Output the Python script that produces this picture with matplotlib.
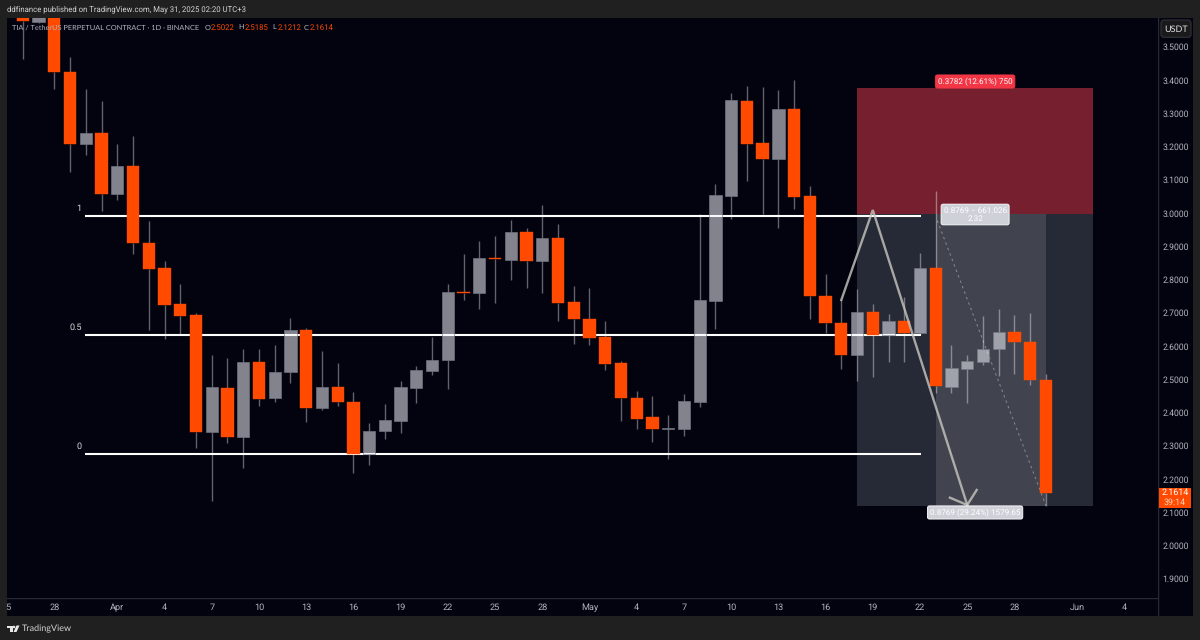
import matplotlib
matplotlib.use('Agg')
import matplotlib.pyplot as plt
from matplotlib.patches import Rectangle, FancyBboxPatch, Polygon, Circle
import numpy as np

plt.rcParams['font.family'] = ['Lato', 'DejaVu Sans']
plt.rcParams['text.hinting'] = 'none'
NUM_FONT = ['Roboto', 'DejaVu Sans']

# daily candles, 26 Mar .. 30 May, x is days from 1 Apr
days = np.arange(-6, 60)
opens = [3.75, 3.5774, 3.62, 3.4271, 3.2114, 3.2445, 3.0602, 3.1444, 2.9137, 2.8367, 2.7284, 2.6953,
         2.3453, 2.4767, 2.3293, 2.5549, 2.4457, 2.5239, 2.6502, 2.4156, 2.4806, 2.4337, 2.2791, 2.3465,
         2.3784, 2.4767, 2.5287, 2.5600, 2.7654, 2.7624, 2.8677, 2.8626, 2.9450, 2.8586, 2.9278, 2.7344,
         2.6851, 2.6301, 2.5510, 2.4466, 2.3886, 2.3543, 2.3543, 2.4355, 2.7393, 3.0550, 3.3398, 3.2126,
         3.1654, 3.3167, 3.0532, 2.7543, 2.6731, 2.5759, 2.7044, 2.6361, 2.6773, 2.6421, 2.8367, 2.4806,
         2.5338, 2.5558, 2.5931, 2.6451, 2.6159, 2.5022]
highs = [3.80, 3.65, 3.65, 3.4722, 3.3759, 3.3398, 3.2105, 3.2346, 2.9789, 2.8586, 2.7895, 2.7032,
         2.5768, 2.5669, 2.5949, 2.5931, 2.6060, 2.6872, 2.6562, 2.5889, 2.5519, 2.4638, 2.3714, 2.4277,
         2.4977, 2.5429, 2.6310, 2.7895, 2.8797, 2.9188, 2.9338, 2.9811, 2.9588, 3.0271, 2.9690, 2.7835,
         2.7774, 2.6773, 2.5579, 2.4668, 2.4526, 2.3955, 2.4587, 2.9991, 3.0902, 3.3639, 3.3859, 3.3820,
         3.3738, 3.4030, 3.0833, 2.8186, 2.7444, 2.7744, 2.7293, 2.6993, 2.7504, 2.8827, 3.0692, 2.6060,
         2.5750, 2.6932, 2.7134, 2.6971, 2.7032, 2.5185]
lows = [3.4662, 3.5745, 3.3759, 3.1272, 3.1783, 3.0099, 3.0421, 2.8797, 2.6520, 2.6241, 2.6361, 2.2953,
        2.1378, 2.3113, 2.2370, 2.4235, 2.4355, 2.4908, 2.3753, 2.4114, 2.4235, 2.2220, 2.2460, 2.3242,
        2.3423, 2.4316, 2.5167, 2.4728, 2.7405, 2.7152, 2.7314, 2.8024, 2.7774, 2.7624, 2.6791, 2.6090,
        2.6051, 2.5317, 2.3784, 2.3525, 2.3152, 2.2641, 2.3333, 2.4196, 2.6550, 2.9859, 3.1001, 3.0000,
        2.9570, 3.0141, 2.6833, 2.6412, 2.5338, 2.4968, 2.5107, 2.5558, 2.5558, 2.6391, 2.4626, 2.4617,
        2.4325, 2.5468, 2.5119, 2.5188, 2.4866, 2.1212]
closes = [3.5804, 3.60, 3.4271, 3.2114, 3.2445, 3.0602, 3.1444, 2.9119, 2.8346, 2.7263, 2.6932, 2.3453,
          2.4788, 2.3293, 2.5549, 2.4436, 2.5257, 2.6502, 2.4156, 2.4806, 2.4337, 2.2791, 2.3483, 2.3805,
          2.4788, 2.5299, 2.5609, 2.7654, 2.7624, 2.8677, 2.8647, 2.9450, 2.8586, 2.9278, 2.7323, 2.6833,
          2.6280, 2.5498, 2.4457, 2.3844, 2.3543, 2.3555, 2.4376, 2.7405, 3.0571, 3.3420, 3.2114, 3.1654,
          3.3167, 3.0511, 2.7525, 2.6722, 2.5759, 2.7044, 2.6352, 2.6773, 2.6421, 2.8367, 2.4827, 2.5359,
          2.5579, 2.5940, 2.6451, 2.6150, 2.5008, 2.1614]

price_ticks = [3.5, 3.4, 3.3, 3.2, 3.1, 3.0, 2.9, 2.8, 2.7, 2.6, 2.5, 2.4, 2.3, 2.2, 2.1, 2.0, 1.9]
time_ticks = [-7, -4, 0, 3, 6, 9, 12, 15, 18, 21, 24, 27, 30, 33, 36, 39, 42, 45, 48, 51, 54, 57, 61, 64]
time_labels = ['25', '28', 'Apr', '4', '7', '10', '13', '16', '19', '22', '25', '28',
               'May', '4', '7', '10', '13', '16', '19', '22', '25', '28', 'Jun', '4']

# fib levels and trade box
fib_levels = [2.9939, 2.6361, 2.2781]
fib_names = ['1', '0.5', '0']
entry, stop, target = 3.0, 3.3782, 2.1231
path_days = [46, 48, 54]
path_prices = [2.7414, 3.012, 2.1248]
head_days = [52.9, 54, 54.6]
head_prices = [2.1468, 2.1248, 2.17]

BG = '#02030f'
FRAME = '#202020'
ORANGE = '#ff4a00'
SOFT = '#b2b5be'
AXLINE = '#262a36'

fig = plt.figure(figsize=(12, 6.4), dpi=100, facecolor=FRAME)

def box(left, top, right, bottom):
    return [left / 1200, 1 - bottom / 640, (right - left) / 1200, (bottom - top) / 640]

ax = fig.add_axes(box(7, 18, 1158, 598), facecolor=BG)
ax.set_xlim(-7.008, 66.12)
ax.set_ylim(1.8451, 3.5895)
ax.set_xticks([])
ax.set_yticks([])
for s in ax.spines.values():
    s.set_visible(False)

# trade box sits under the candles
ax.add_patch(Rectangle((47, entry), 15, stop - entry, fc='#761f2e', ec='none', zorder=1))
ax.add_patch(Rectangle((47, target), 15, entry - target, fc='#262936', ec='none', zorder=1))
ax.add_patch(Rectangle((52, target), 7, entry - target, fc='#41444f', ec='none', zorder=1.1))
ax.plot([52.1, 59], [2.98, 2.1231], color='#8a8c94', lw=0.7, ls=(0, (2.5, 3.5)), zorder=1.2)

for level, name in zip(fib_levels, fib_names):
    ax.plot([-2.07, 51.05], [level, level], color='#ffffff', lw=1.5, solid_capstyle='butt', zorder=2)
    ax.text(-2.27, level + 0.024, name, color='#d8d8d8', fontsize=6.5, ha='right', va='center', zorder=2,
            family=NUM_FONT)

for d, o, h, l, c in zip(days, opens, highs, lows, closes):
    top, bot = max(o, c), min(o, c)
    ax.vlines(d, top, h, color='#ffffff', alpha=0.38, lw=1.0, zorder=3)
    ax.vlines(d, l, bot, color='#ffffff', alpha=0.38, lw=1.0, zorder=3)
    if c < o:
        ax.bar(d, top - bot, bottom=bot, width=0.78, color=ORANGE, edgecolor=ORANGE, linewidth=0.3, zorder=4)
    else:
        ax.bar(d, top - bot, bottom=bot, width=0.78, color=(0.96, 0.97, 1.0, 0.53),
               edgecolor=(0.45, 0.47, 0.52, 0.9), linewidth=0.5, zorder=4)

ax.plot(path_days, path_prices, color='#c8c8c0', alpha=0.8, lw=1.7, solid_joinstyle='miter', zorder=5)
ax.plot(head_days, head_prices, color='#c8c8c0', alpha=0.8, lw=1.7, zorder=5)

def tag(x, y, text, fc, ec, size=5.9):
    ax.text(x, y, text, color='#ffffff', fontsize=size, ha='center', va='center', linespacing=1.1, zorder=7,
            family=NUM_FONT,
            bbox=dict(boxstyle='round,pad=0.3,rounding_size=0.25', fc=fc, ec=ec, lw=0.6))

tag(54.5, 3.3985, '0.3782 (12.61%) 750', '#f23645', '#f23645')
tag(54.5, 2.9985, '0.8769 − 661.026\n2.32', '#cfd1d9', '#ffffff')
tag(54.5, 2.1023, '0.8769 (29.24%) 1579.65', '#cfd1d9', '#ffffff')

# time axis strip
tax = fig.add_axes(box(7, 598, 1158, 616), facecolor=BG)
tax.set_xlim(ax.get_xlim())
tax.set_ylim(0, 1)
tax.axis('off')
tax.add_patch(Rectangle((-7.008, 0), 73.2, 1, fc=BG, ec='none'))
tax.plot([-7.008, 66.12], [0.98, 0.98], color=AXLINE, lw=1)
for t, lab in zip(time_ticks, time_labels):
    tax.text(t, 0.46, lab, color=SOFT, fontsize=6.6, ha='center', va='center', clip_on=True, family=NUM_FONT)

# price axis strip
pax = fig.add_axes(box(1158, 18, 1193, 616), facecolor=BG)
pax.set_xlim(0, 35)
pax.set_ylim(ax.get_ylim()[0] - 18 / 332.5, ax.get_ylim()[1])
pax.set_xticks([])
pax.set_yticks([])
for s in pax.spines.values():
    s.set_visible(False)
pax.axvline(0.4, color=AXLINE, lw=1)
for p in price_ticks:
    pax.text(17.8, p, '%.4f' % p, color=SOFT, fontsize=6.2, ha='center', va='center', family=NUM_FONT)
pax.add_patch(Rectangle((0.5, 2.1161), 32.5, 0.0602, fc=ORANGE, ec='none', zorder=4))
pax.text(17, 2.1620, '2.1614', color='#ffffff', fontsize=6.4, ha='center', va='center', zorder=5, family=NUM_FONT)
pax.text(17, 2.1320, '39:14', color='#ffd0ba', fontsize=6.4, ha='center', va='center', zorder=5, family=NUM_FONT)

# chrome text and logo in pixel coordinates
top = fig.add_axes([0, 0, 1, 1], facecolor='none')
top.set_xlim(0, 1200)
top.set_ylim(640, 0)
top.axis('off')
top.text(7, 9, 'ddfinance published on TradingView.com, May 31, 2025 02:20 UTC+3', color='#d4d4d4',
         fontsize=5.6, va='center', family=NUM_FONT)
top.text(12, 27.5, 'TIA / TetherUS PERPETUAL CONTRACT · 1D · BINANCE', color=SOFT, fontsize=5.35, va='center')
for x, key, val in [(205, 'O', '2.5022'), (238.7, 'H', '2.5185'), (272, 'L', '2.1212'), (304, 'C', '2.1614')]:
    top.text(x, 27.5, key, color=SOFT, fontsize=5.35, va='center')
    top.text(x + 5.8, 27.5, val, color=ORANGE, fontsize=5.6, va='center', family=NUM_FONT)
top.add_patch(FancyBboxPatch((1161, 20), 30, 17.3, boxstyle='round,pad=0,rounding_size=3', fc='#1a1a1c', ec='#34343a', lw=0.8))
top.text(1176, 29, 'USDT', color='#e0e0e0', fontsize=6.5, ha='center', va='center')
top.add_patch(Polygon([[7, 625.5], [12.5, 625.5], [12.5, 632], [10, 632], [10, 628], [7, 628]], fc='#e8e8e8', ec='none'))
top.add_patch(Circle((14, 627), 1.3, fc='#e8e8e8', ec='none'))
top.add_patch(Polygon([[16.5, 625.5], [19.5, 625.5], [16.5, 632], [13.5, 632]], fc='#e8e8e8', ec='none'))
top.text(22, 629, 'TradingView', color='#d4d4d4', fontsize=6.5, va='center')

fig.savefig('out.png', dpi=100, facecolor=FRAME)
